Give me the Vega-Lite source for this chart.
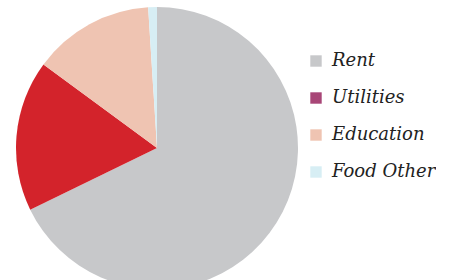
{
  "$schema": "https://vega.github.io/schema/vega-lite/v6.json",
  "width": 314,
  "height": 296,
  "padding": 0,
  "autosize": {"type": "pad"},
  "background": "white",
  "view": {"stroke": null},
  "data": {
    "values": [
      {"category": "Rent", "share": 67.8, "order": 1},
      {"category": "Utilities", "share": 0, "order": 2},
      {"category": "Food Home", "share": 17.3, "order": 3},
      {"category": "Education", "share": 13.9, "order": 4},
      {"category": "Food Other", "share": 1.0, "order": 5}
    ]
  },
  "mark": {"type": "arc", "radius": 141},
  "encoding": {
    "theta": {"field": "share", "type": "quantitative", "stack": true},
    "order": {"field": "order", "type": "quantitative"},
    "color": {
      "field": "category",
      "type": "nominal",
      "scale": {
        "domain": ["Rent", "Utilities", "Food Home", "Education", "Food Other"],
        "range": ["#c7c8ca", "#a84677", "#d3232b", "#efc4b2", "#d7eef4"]
      },
      "legend": {
        "values": ["Rent", "Utilities", "Education", "Food Other"],
        "title": null,
        "orient": "none",
        "legendX": 307,
        "legendY": 52,
        "symbolType": "square",
        "symbolSize": 130,
        "symbolStrokeWidth": 0,
        "labelFont": "DejaVu Serif",
        "labelFontStyle": "italic",
        "labelFontSize": 18,
        "labelColor": "#222222",
        "labelOffset": 7,
        "rowPadding": 19
      }
    }
  }
}
